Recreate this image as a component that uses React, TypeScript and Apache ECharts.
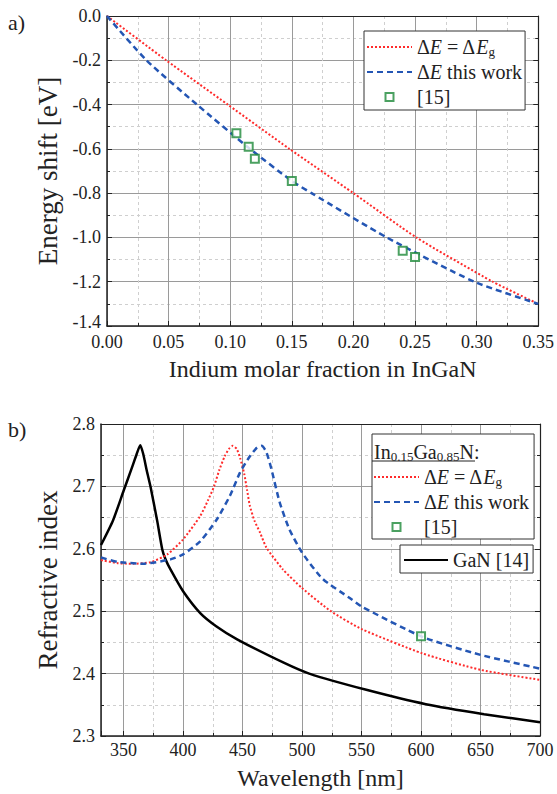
import React, { useEffect, useRef } from "react";
import * as echarts from "echarts";

// ---------- Data: panel a) ----------
const aEgX = [0, 0.048, 0.098, 0.148, 0.2, 0.251, 0.313, 0.35];
const aEgY = [0, -0.2, -0.4, -0.6, -0.8, -1.0, -1.2, -1.3];
const aWorkX = [0, 0.032, 0.073, 0.116, 0.15, 0.166, 0.227, 0.298, 0.35];
const aWorkY = [0, -0.2, -0.4, -0.6, -0.745, -0.8, -1.0, -1.2, -1.3];
const aRefX = [0.105, 0.115, 0.12, 0.15, 0.24, 0.25];
const aRefY = [-0.53, -0.59, -0.645, -0.745, -1.06, -1.088];

// ---------- Data: panel b) ----------
const bGanX = [331, 341, 350, 357, 361, 364, 366.5, 369.5, 372.8, 378.3, 382.5, 385.3, 389.4, 400, 414.4, 427.8, 445.8, 485, 506, 554, 604, 653, 700];
const bGanY = [2.606, 2.645, 2.693, 2.73, 2.752, 2.766, 2.752, 2.725, 2.698, 2.644, 2.599, 2.583, 2.567, 2.532, 2.497, 2.476, 2.4545, 2.417, 2.4, 2.374, 2.351, 2.335, 2.322];
const bEgX = [331, 345, 358, 372.8, 386.7, 400, 414.4, 421, 426, 430.4, 434.9, 438.5, 441.7, 445.1, 448, 451.4, 453.8, 456.1, 460, 464.7, 470, 483.9, 500, 524.2, 550.5, 601, 650, 700];
const bEgY = [2.582, 2.577, 2.576, 2.5786, 2.591, 2.615, 2.6525, 2.678, 2.7, 2.726, 2.748, 2.76, 2.765, 2.76, 2.745, 2.72, 2.694, 2.669, 2.645, 2.626, 2.602, 2.567, 2.537, 2.5, 2.471, 2.4325, 2.406, 2.39];
const bWorkX = [331, 345, 366.5, 389.4, 400, 414.4, 428.3, 439.4, 447.8, 456, 462, 466, 470, 474.2, 481.1, 489.4, 500, 517.2, 539.4, 550.5, 601, 650, 700];
const bWorkY = [2.586, 2.579, 2.576, 2.583, 2.591, 2.612, 2.647, 2.685, 2.722, 2.748, 2.762, 2.765, 2.755, 2.728, 2.675, 2.631, 2.594, 2.552, 2.522, 2.507, 2.459, 2.43, 2.408];
const bRefX = [600];
const bRefY = [2.46];

const zip = (xs: number[], ys: number[]) => xs.map((x, i) => [x, ys[i]]);

const FONT = "Liberation Serif";
const TXT = "#222";
const RED = "#ff2b2b";
const BLUE = "#2456b4";
const GREEN = "#1e8a3a";

const LEGEND_TEXT: Record<string, string> = {
  a_eg: "{t|Δ}{i|E}{t| = Δ}{i|E}{s|g}",
  a_work: "{t|Δ}{i|E}{t| this work}",
  a_ref: "{t|[15]}",
  b_eg: "{t|Δ}{i|E}{t| = Δ}{i|E}{s|g}",
  b_work: "{t|Δ}{i|E}{t| this work}",
  b_ref: "{t|[15]}",
  b_gan: "{t|GaN [14]}",
};

const rich = {
  t: { fontFamily: FONT, fontSize: 20, lineHeight: 22, color: TXT },
  i: { fontFamily: FONT, fontSize: 20, lineHeight: 22, color: TXT, fontStyle: "italic" },
  s: { fontFamily: FONT, fontSize: 13, lineHeight: 13, color: TXT, verticalAlign: "bottom" },
  n: { fontFamily: FONT, fontSize: 20, lineHeight: 22, color: TXT },
};

const SQUARE_ICON = "path://M0,0L10,0L10,10L0,10Z";

function lineItem(name: string) {
  return { name, itemStyle: { opacity: 0 } };
}
function squareItem(name: string) {
  return { name, icon: SQUARE_ICON, itemStyle: { color: "#fff", borderColor: GREEN, borderWidth: 2 } };
}

function legendBase(data: any[], left: number, top: number, padding: number[], itemWidth: number) {
  return {
    data,
    left,
    top,
    orient: "vertical",
    padding,
    itemWidth,
    itemHeight: 8,
    itemGap: 3,
    symbolKeepAspect: true,
    borderColor: "#333",
    borderWidth: 1,
    backgroundColor: "#fff",
    selectedMode: false,
    formatter: (name: string) => LEGEND_TEXT[name] || name,
    textStyle: { fontFamily: FONT, fontSize: 20, lineHeight: 22, color: TXT, rich },
  };
}

function xAxisMain(gridIndex: number, extra: any, decimals: number | null, nameText: string, nameGap: number, margin: number) {
  return {
    type: "value",
    gridIndex,
    position: "bottom",
    name: nameText,
    nameLocation: "middle",
    nameGap,
    nameTextStyle: { fontFamily: FONT, fontSize: 24, color: TXT },
    axisLine: { show: true, onZero: false, lineStyle: { color: "#222", width: 1.5 } },
    axisTick: { show: true, inside: true, length: 5, lineStyle: { color: "#222" } },
    minorTick: { show: true, splitNumber: 2, length: 3, lineStyle: { color: "#222" } },
    splitLine: { show: true, lineStyle: { color: "#9a9a9a", width: 1 } },
    minorSplitLine: { show: true, lineStyle: { color: "#cfcfcf", width: 1, type: [3, 3] } },
    axisLabel: {
      fontFamily: FONT,
      fontSize: 18,
      lineHeight: 14,
      color: TXT,
      margin,
      formatter: (v: number) =>
        decimals === null ? (Math.round(v) % 50 === 0 ? String(Math.round(v)) : "") : v.toFixed(decimals),
    },
    ...extra,
  };
}

function xAxisTop(gridIndex: number, extra: any) {
  return {
    type: "value",
    gridIndex,
    position: "top",
    axisLine: { show: true, onZero: false, lineStyle: { color: "#222", width: 1.2 } },
    axisTick: { show: false },
    axisLabel: { show: false },
    splitLine: { show: false },
    ...extra,
  };
}

function yAxisMain(gridIndex: number, extra: any, nameText: string, nameGap: number, raiseMin: boolean) {
  return {
    type: "value",
    gridIndex,
    position: "left",
    name: nameText,
    nameLocation: "middle",
    nameGap,
    nameRotate: 90,
    nameTextStyle: { fontFamily: FONT, fontSize: 27, color: TXT },
    axisLine: { show: true, onZero: false, lineStyle: { color: "#222", width: 1.5 } },
    axisTick: { show: true, inside: true, length: 5, lineStyle: { color: "#222" } },
    minorTick: { show: true, splitNumber: 2, length: 3, lineStyle: { color: "#222" } },
    splitLine: { show: true, lineStyle: { color: "#9a9a9a", width: 1 } },
    minorSplitLine: { show: true, lineStyle: { color: "#cfcfcf", width: 1, type: [3, 3] } },
    axisLabel: {
      fontFamily: FONT,
      fontSize: 18,
      lineHeight: 14,
      color: TXT,
      margin: 6,
      formatter: (v: number) =>
        raiseMin && Math.abs(v - extra.min) < 1e-9 ? `{low|${v.toFixed(1)}}` : v.toFixed(1),
      rich: {
        low: { fontFamily: FONT, fontSize: 18, lineHeight: 14, color: TXT, padding: [0, 0, 8, 0] },
      },
    },
    ...extra,
  };
}

function yAxisRight(gridIndex: number, extra: any) {
  return {
    type: "value",
    gridIndex,
    position: "right",
    axisLine: { show: true, onZero: false, lineStyle: { color: "#222", width: 1.2 } },
    axisTick: { show: true, inside: true, length: 5, lineStyle: { color: "#222" } },
    minorTick: { show: true, splitNumber: 2, length: 3, lineStyle: { color: "#222" } },
    axisLabel: { show: false },
    splitLine: { show: false },
    ...extra,
  };
}

export default function App() {
  const ref = useRef<HTMLDivElement>(null);

  useEffect(() => {
    if (!ref.current) return;
    const chart = echarts.init(ref.current, null, { renderer: "svg" });

    const aX = { min: 0, max: 0.35, interval: 0.05 };
    const aY = { min: -1.4, max: 0, interval: 0.2 };
    const bX = { min: 331, max: 700, splitNumber: 7 };
    const bY = { min: 2.3, max: 2.8, interval: 0.1 };

    const lineSeries = (name: string, xi: number, xs: number[], ys: number[], color: string, width: number, type: any) => ({
      name, type: "line", xAxisIndex: xi, yAxisIndex: xi, data: zip(xs, ys),
      showSymbol: false, symbol: "none", smooth: 0.2,
      lineStyle: { color, width, type }, itemStyle: { color }, z: 3,
    });
    const scatterSeries = (name: string, xi: number, xs: number[], ys: number[]) => ({
      name, type: "scatter", xAxisIndex: xi, yAxisIndex: xi, data: zip(xs, ys),
      symbol: "rect", symbolSize: 8,
      itemStyle: { color: "#fff", borderColor: GREEN, borderWidth: 2 }, z: 4,
    });

    const option: any = {
      animation: false,
      backgroundColor: "#fff",
      grid: [
        { left: 107, top: 16, width: 432, height: 310 },
        { left: 101, top: 424, width: 439, height: 312 },
      ],
      xAxis: [
        xAxisMain(0, aX, 2, "Indium molar fraction in InGaN", 31, 9),
        xAxisTop(0, aX),
        xAxisMain(1, bX, null, "Wavelength [nm]", 30, 7),
        xAxisTop(1, bX),
      ],
      yAxis: [
        yAxisMain(0, aY, "Energy shift [eV]", 45, true),
        yAxisRight(0, aY),
        yAxisMain(1, bY, "Refractive index", 39, false),
        yAxisRight(1, bY),
      ],
      legend: [
        legendBase([lineItem("a_eg"), lineItem("a_work"), squareItem("a_ref")], 364, 31, [5, 3, 2, 2], 45),
        legendBase([lineItem("b_eg"), lineItem("b_work"), squareItem("b_ref")], 372, 434, [32, 5, 1, 1], 45),
        legendBase([lineItem("b_gan")], 400, 545, [4, 4, 2, 3], 44),
      ],
      series: [
        lineSeries("a_eg", 0, aEgX, aEgY, RED, 2, [2, 2]),
        lineSeries("a_work", 0, aWorkX, aWorkY, BLUE, 2.5, [6, 4]),
        scatterSeries("a_ref", 0, aRefX, aRefY),
        // panel b uses axis index 2 for both x and y
        lineSeries("b_gan", 2, bGanX, bGanY, "#000", 2.5, "solid"),
        lineSeries("b_eg", 2, bEgX, bEgY, RED, 2, [2, 2]),
        lineSeries("b_work", 2, bWorkX, bWorkY, BLUE, 2.5, [6, 4]),
        scatterSeries("b_ref", 2, bRefX, bRefY),
      ],
      graphic: [
        { type: "text", left: 8, top: 11, z: 100, style: { text: "a)", font: `22px "Liberation Serif"`, fill: TXT } },
        { type: "text", left: 8, top: 418, z: 100, style: { text: "b)", font: `22px "Liberation Serif"`, fill: TXT } },
        {
          type: "text", x: 374, y: 441, z: 100,
          style: {
            text: "{n|In}{s|0.15}{n|Ga}{s|0.85}{n|N:}",
            rich,
            fill: TXT,
            font: `20px "Liberation Serif"`,
          },
        },
        {
          type: "line", z: 100,
          shape: { x1: 372, y1: 461, x2: 475, y2: 461 },
          style: { stroke: "#222", lineWidth: 1 },
        },
      ],
    };

    chart.setOption(option);
    return () => chart.dispose();
  }, []);

  return <div ref={ref} style={{ position: "absolute", left: 0, top: 0, width: 557, height: 794 }} />;
}
